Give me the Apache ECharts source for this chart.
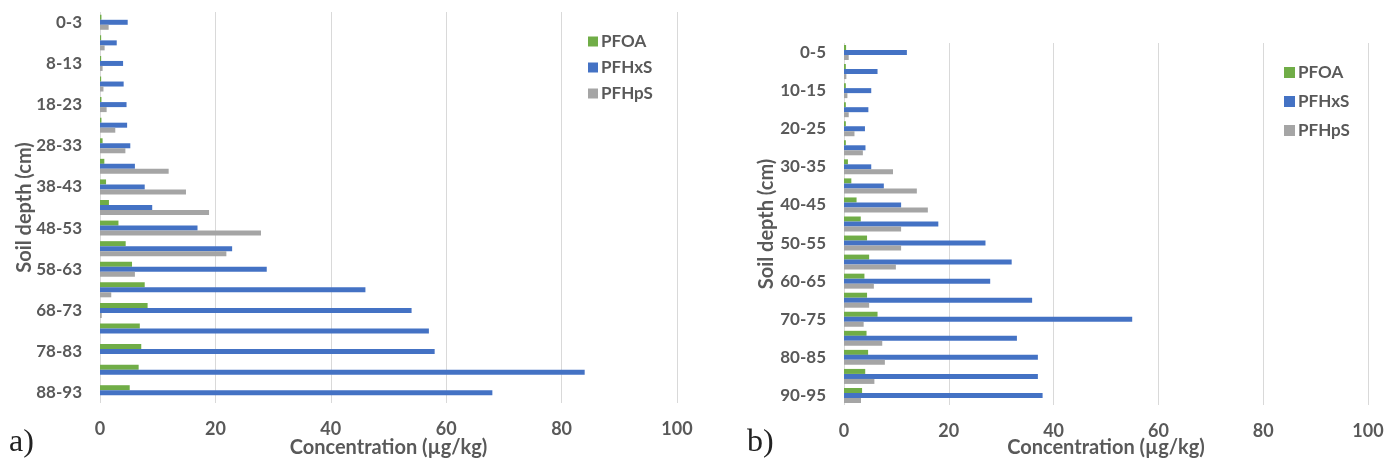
<!DOCTYPE html>
<html>
<head>
<meta charset="utf-8">
<script src="https://cdn.jsdelivr.net/npm/echarts@6/dist/echarts.min.js"></script>
<style>html,body{margin:0;padding:0;background:#fff}#c{width:1385px;height:462px}</style>
</head>
<body>
<div id="c"></div>
<script>
const depthsA = ['0-3','3-8','8-13','13-18','18-23','23-28','28-33','33-38','38-43','43-48','48-53','53-58','58-63','63-68','68-73','73-78','78-83','83-88','88-93'];
const pfoaA  = [0.25,0.2,0.2,0.2,0.25,0.25,0.45,0.75,1.05,1.55,3.2,4.45,5.55,7.75,8.25,6.9,7.15,6.7,5.15];
const pfhxsA = [4.8,2.9,4.0,4.1,4.6,4.7,5.25,6.05,7.75,9.05,16.9,22.9,28.9,46,54,57,58,84,68];
const pfhpsA = [1.5,0.8,0.45,0.6,1.15,2.65,4.4,11.9,14.9,18.9,27.9,21.9,6.05,1.95,0.3,0,0,0,0];

const depthsB = ['0-5','5-10','10-15','15-20','20-25','25-30','30-35','35-40','40-45','45-50','50-55','55-60','60-65','65-70','70-75','75-80','80-85','85-90','90-95'];
const pfoaB  = [0.4,0.35,0.35,0.35,0.35,0.35,0.75,1.4,2.4,3.2,4.4,4.8,3.9,4.4,6.4,4.3,4.6,4.05,3.45];
const pfhxsB = [12.0,6.4,5.2,4.65,4.0,4.1,5.2,7.6,10.9,18.0,27.0,32.0,27.9,35.9,55,33.0,37.0,37.0,37.9];
const pfhpsB = [0.9,0.45,0.65,0.9,2.0,3.6,9.35,13.9,16.0,10.9,10.9,9.9,5.7,4.8,3.75,7.3,7.8,5.8,3.25];

const xTicks = [0,20,40,60,80,100];
const seriesNames = ['PFOA','PFHxS','PFHpS'];
const colors = ['#70ad47','#4472c4','#a5a5a5'];

const FONT = 'Lato, "Open Sans", sans-serif';
const txt = '#595959';

function xAxis(gi){
  return {gridIndex:gi,type:'value',min:xTicks[0],max:xTicks[xTicks.length-1],interval:20,
    axisLine:{show:false},axisTick:{show:false},
    splitLine:{lineStyle:{color:'#d9d9d9',width:1}},
    axisLabel:{color:txt,fontFamily:FONT,fontWeight:'bold',fontSize:18,margin:17},
    name:'Concentration (µg/kg)',nameLocation:'middle',nameGap:gi===0?35:33,nameMoveOverlap:false,
    nameTextStyle:{color:txt,fontFamily:FONT,fontWeight:'bold',fontSize:20}};
}
function yAxis(gi,cats){
  return {gridIndex:gi,type:'category',data:cats,inverse:true,
    axisLine:{show:false},axisTick:{show:false},
    axisLabel:{interval:1,color:txt,fontFamily:FONT,fontWeight:'bold',fontSize:17,margin:18},
    name:'Soil depth (cm)',nameLocation:'middle',nameGap:gi===0?65:67,nameRotate:90,nameMoveOverlap:false,
    nameTextStyle:{color:txt,fontFamily:FONT,fontWeight:'bold',fontSize:20}};
}
function bars(gi,vals,bw){
  return vals.map((v,i)=>({name:seriesNames[i],type:'bar',xAxisIndex:gi,yAxisIndex:gi,data:v,
    barWidth:bw,barGap:'0%',itemStyle:{color:colors[i]},animation:false}));
}

const chart = echarts.init(document.getElementById('c'),null,{renderer:'canvas'});
chart.setOption({
  animation:false,
  grid:[
    {left:100,width:577,top:12,bottom:59,containLabel:false,outerBoundsMode:'none'},
    {left:844,width:524,top:43,bottom:57,containLabel:false,outerBoundsMode:'none'}
  ],
  xAxis:[xAxis(0),xAxis(1)],
  yAxis:[yAxis(0,depthsA),yAxis(1,depthsB)],
  legend:[
    {orient:'vertical',left:583,top:28,itemWidth:10,itemHeight:10,itemGap:9,icon:'rect',data:seriesNames,
      textStyle:{color:txt,fontFamily:FONT,fontWeight:'bold',fontSize:17,padding:[0,0,0,-2]}},
    {orient:'vertical',left:1279,top:59,itemWidth:11,itemHeight:11,itemGap:12,icon:'rect',data:seriesNames,
      textStyle:{color:txt,fontFamily:FONT,fontWeight:'bold',fontSize:17,padding:[0,0,0,-2]}}
  ],
  series:[...bars(0,[pfoaA,pfhxsA,pfhpsA],5),...bars(1,[pfoaB,pfhxsB,pfhpsB],5)],
  graphic:[
    {type:'text',left:9,top:427,style:{text:'a)',font:'32px "Liberation Serif", serif',fill:'#222'}},
    {type:'text',left:747,top:427,style:{text:'b)',font:'32px "Liberation Serif", serif',fill:'#222'}}
  ]
});
</script>
</body>
</html>
